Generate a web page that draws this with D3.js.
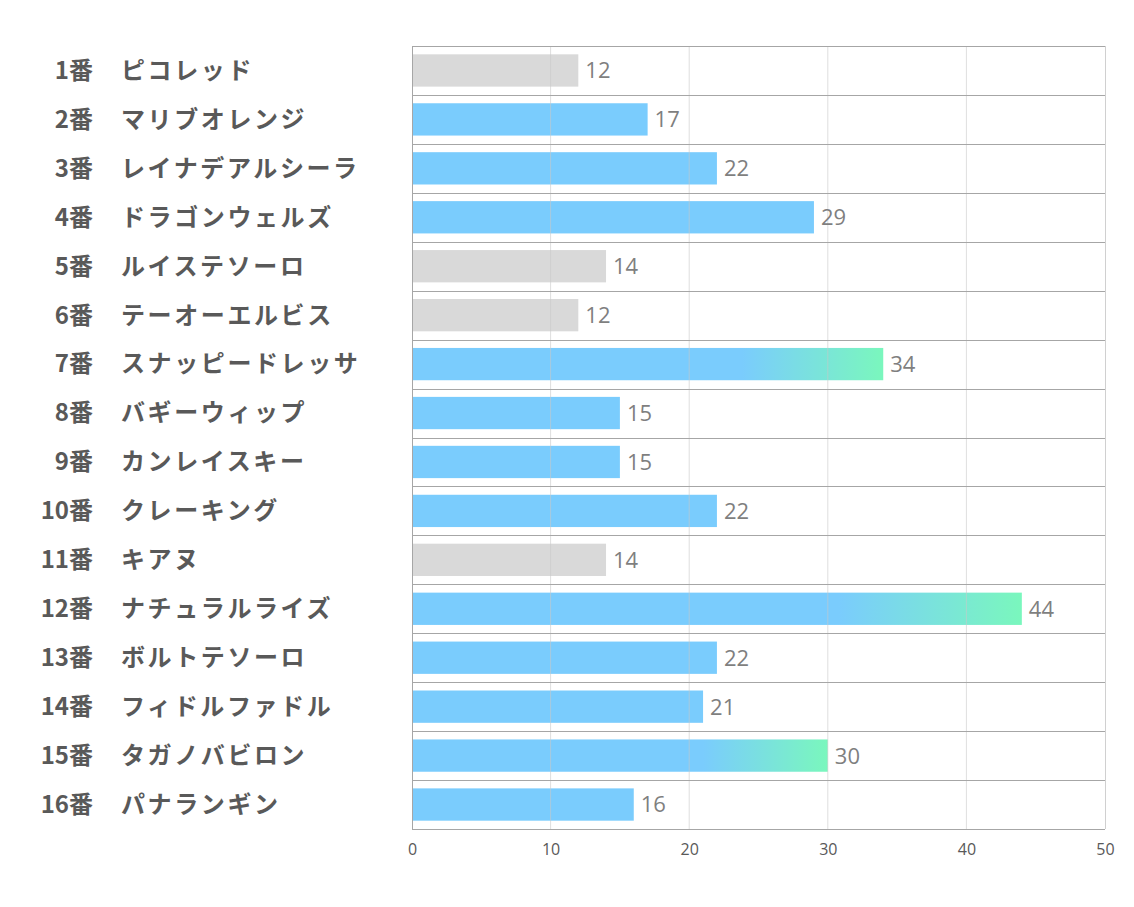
<!DOCTYPE html>
<html lang="ja">
<head>
  <meta charset="UTF-8">
  <title>horse chart</title>
  <script src="https://d3js.org/d3.v7.min.js"></script>
  <style>
    body { margin: 0; background: #fff; }
    .num, .name {
      font-family: "Noto Sans CJK JP", sans-serif;
      font-weight: 700;
      font-size: 24px;
      fill: #595959;
    }
    .name { letter-spacing: 2.6px; }
    .val {
      font-family: "Open Sans", "Noto Sans", sans-serif;
      font-size: 22px;
      fill: #7f7f7f;
    }
  </style>
</head>
<body>
  <svg></svg>
  <script>
    const numbers = ["1番","2番","3番","4番","5番","6番","7番","8番","9番","10番","11番","12番","13番","14番","15番","16番"];
    const names = ["ピコレッド","マリブオレンジ","レイナデアルシーラ","ドラゴンウェルズ","ルイステソーロ","テーオーエルビス","スナッピードレッサ","バギーウィップ","カンレイスキー","クレーキング","キアヌ","ナチュラルライズ","ボルトテソーロ","フィドルファドル","タガノバビロン","パナランギン"];
    const values = [12, 17, 22, 29, 14, 12, 34, 15, 15, 22, 14, 44, 22, 21, 30, 16];
    // 0 = grey, 1 = blue, 2 = blue->green
    const kinds = [0, 1, 1, 1, 0, 0, 2, 1, 1, 1, 0, 2, 1, 1, 2, 1];
    const xTicks = [0, 10, 20, 30, 40, 50];

    const width = 1134, height = 907;
    const margin = {top: 46, right: 29, bottom: 78, left: 412};

    const svg = d3.select("svg")
        .attr("width", width)
        .attr("height", height);

    const x = d3.scaleLinear().domain([0, 50]).range([margin.left, width - margin.right]);
    const y = d3.scaleBand().domain(d3.range(values.length))
        .range([margin.top, height - margin.bottom])
        .paddingInner(0.34).paddingOuter(0.17);
    const step = y.step();

    const defs = svg.append("defs");
    values.forEach((v, i) => {
      if (kinds[i] !== 2) return;
      const grad = defs.append("linearGradient")
          .attr("id", "g" + i)
          .attr("x1", "0%").attr("x2", "100%").attr("y1", "0%").attr("y2", "0%");
      grad.append("stop").attr("offset", "0%").attr("stop-color", "#7accfd");
      grad.append("stop").attr("offset", "70%").attr("stop-color", "#7accfd");
      grad.append("stop").attr("offset", "100%").attr("stop-color", "#7af7bd");
    });

    // bars
    svg.append("g").selectAll("rect")
      .data(values)
      .join("rect")
        .attr("x", x(0))
        .attr("y", (d, i) => y(i))
        .attr("width", d => x(d) - x(0))
        .attr("height", y.bandwidth())
        .attr("fill", (d, i) => kinds[i] === 0 ? "#d9d9d9" : kinds[i] === 1 ? "#7accfd" : `url(#g${i})`);

    // vertical grid (over bars, light)
    svg.append("g").selectAll("line")
      .data(xTicks.slice(1, -1))
      .join("line")
        .attr("x1", d => x(d)).attr("x2", d => x(d))
        .attr("y1", margin.top).attr("y2", height - margin.bottom)
        .attr("stroke", "#c8c8c8").attr("stroke-opacity", 0.6).attr("stroke-width", 1);

    // row separators
    svg.append("g").selectAll("line")
      .data(d3.range(values.length + 1))
      .join("line")
        .attr("x1", x(0)).attr("x2", x(50))
        .attr("y1", d => Math.round(margin.top + d * step) + 0.5)
        .attr("y2", d => Math.round(margin.top + d * step) + 0.5)
        .attr("stroke", "#a6a6a6").attr("stroke-width", 1);

    // left/right borders
    svg.append("g").selectAll("line")
      .data([0, 50])
      .join("line")
        .attr("x1", d => x(d) + 0.5).attr("x2", d => x(d) + 0.5)
        .attr("y1", margin.top).attr("y2", height - margin.bottom)
        .attr("stroke", d => d === 0 ? "#a6a6a6" : "#d0d0d0");

    // value labels
    svg.append("g").selectAll("text")
      .data(values)
      .join("text")
        .attr("class", "val")
        .attr("x", d => x(d) + 7)
        .attr("y", (d, i) => y(i) + y.bandwidth() / 2)
        .attr("dy", "0.36em")
        .text(d => d);

    // row labels
    const labels = svg.append("g");
    labels.selectAll("text.num")
      .data(numbers)
      .join("text")
        .attr("class", "num")
        .attr("x", 93)
        .attr("y", (d, i) => y(i) + y.bandwidth() / 2)
        .attr("dy", "0.35em")
        .attr("text-anchor", "end")
        .text(d => d);
    labels.selectAll("text.name")
      .data(names)
      .join("text")
        .attr("class", "name")
        .attr("x", 121)
        .attr("y", (d, i) => y(i) + y.bandwidth() / 2)
        .attr("dy", "0.35em")
        .text(d => d);

    // x axis
    const xAxis = svg.append("g")
        .attr("transform", `translate(0,${height - margin.bottom})`)
        .call(d3.axisBottom(x).tickValues(xTicks).tickSize(0).tickPadding(15));
    xAxis.select(".domain").remove();
    xAxis.attr("font-family", "'Open Sans', 'Noto Sans', sans-serif").attr("font-size", 16);
    xAxis.selectAll("text").attr("fill", "#595959");
  </script>
</body>
</html>
